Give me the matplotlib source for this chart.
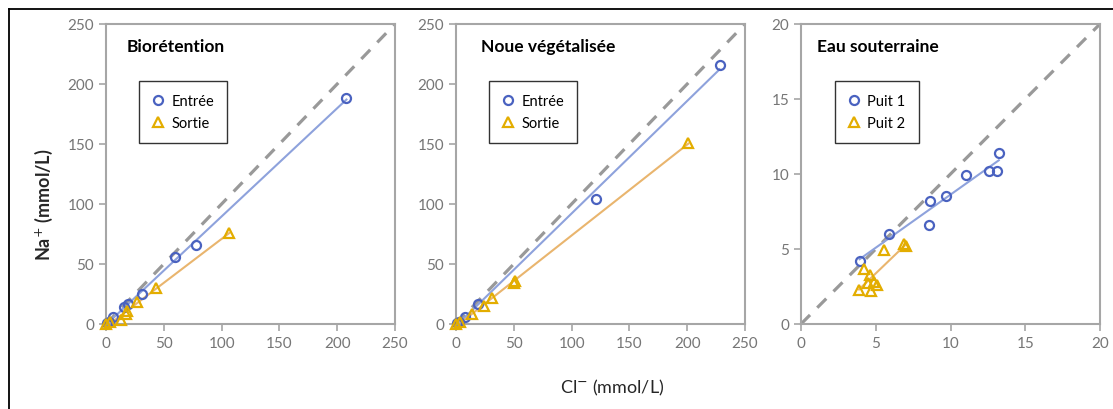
import matplotlib
matplotlib.use("Agg")
import matplotlib.pyplot as plt
import numpy as np
from matplotlib.lines import Line2D

plt.rcParams['font.family'] = ['Lato', 'DejaVu Sans']

# Biorétention
bio_in_x = [0.5, 3, 6, 16, 19, 31, 60, 78, 208]
bio_in_y = [1, 2, 5.6, 14.5, 16.7, 25, 56, 66, 188]
bio_out_x = [0, 3.5, 12.7, 17, 18, 26.5, 43, 106.7]
bio_out_y = [0, 2, 3, 8, 11, 18, 30, 76]

# Noue végétalisée
noue_in_x = [0.5, 3, 8, 19, 121, 228]
noue_in_y = [1, 2, 5.6, 16.7, 104.5, 216]
noue_out_x = [0, 3.5, 14, 24, 31, 50, 51, 201]
noue_out_y = [0, 1.5, 8, 15, 22, 34, 36, 151]

# Eau souterraine
puit1_x = [3.92, 5.86, 8.57, 8.64, 9.71, 11.02, 12.56, 13.14, 13.23]
puit1_y = [4.18, 5.97, 6.59, 8.2, 8.56, 9.94, 10.21, 10.21, 11.4]
puit2_x = [3.88, 4.19, 4.45, 4.63, 4.7, 4.86, 5.08, 5.57, 6.9, 7.04]
puit2_y = [2.28, 3.69, 2.75, 3.24, 2.17, 2.8, 2.57, 4.92, 5.36, 5.2]

panels = [
    ("Biorétention", bio_in_x, bio_in_y, bio_out_x, bio_out_y, ["Entrée", "Sortie"], 250, 50),
    ("Noue végétalisée", noue_in_x, noue_in_y, noue_out_x, noue_out_y, ["Entrée", "Sortie"], 250, 50),
    ("Eau souterraine", puit1_x, puit1_y, puit2_x, puit2_y, ["Puit 1", "Puit 2"], 20, 5),
]

blue = '#4a62c0'
blue_line = '#8ea2dc'
gold = '#e3ad00'
gold_line = '#e9b56e'
spine = '#a6a6a6'
tickc = '#767676'

W, H = 1113, 410
fig = plt.figure(figsize=(W / 100, H / 100), dpi=100)

# axes boxes in pixels: left, right, top, bottom
boxes = [(106, 395, 25, 325), (456, 745, 25, 325), (801, 1100, 25, 325)]
title_x = [0.07, 0.085, 0.055]

for (title, x1, y1, x2, y2, labels, lim, step), (l, r, t, b), tx in zip(panels, boxes, title_x):
    ax = fig.add_axes([l / W, 1 - b / H, (r - l) / W, (b - t) / H])
    ax.plot([0, lim], [0, lim], color='#999999', lw=2.3, dashes=(4, 3.2), zorder=1)

    for xs, ys, lc in ((x1, y1, blue_line), (x2, y2, gold_line)):
        xs = np.array(xs)
        ys = np.array(ys)
        k, c = np.polyfit(xs, ys, 1)
        xx = np.array([xs.min(), xs.max()])
        ax.plot(xx, k * xx + c, color=lc, lw=1.5, zorder=2)

    ax.plot(x1, y1, 'o', ms=6.5, mfc='none', mec=blue, mew=1.6, ls='none', label=labels[0],
            zorder=3, clip_on=False)
    ax.plot(x2, y2, '^', ms=6.5, mfc='none', mec=gold, mew=1.6, ls='none', label=labels[1],
            zorder=3, clip_on=False)

    ax.set_xlim(0, lim)
    ax.set_ylim(0, lim)
    ax.set_xticks(np.arange(0, lim + 1, step))
    ax.set_yticks(np.arange(0, lim + 1, step))
    for s in ax.spines.values():
        s.set_color(spine)
        s.set_linewidth(1.5)
    ax.tick_params(colors=spine, labelcolor=tickc, labelsize=11, length=5, width=1.2, direction='out')

    ax.text(tx, 0.925, title, transform=ax.transAxes, fontsize=12.5, fontweight='bold',
            va='center', ha='left', color='black')

    leg = ax.legend(loc='upper left', bbox_to_anchor=(0.115, 0.81), frameon=True, fancybox=False,
                    edgecolor='black', fontsize=10.5, handlelength=0.8, handletextpad=0.5,
                    borderpad=0.9, labelspacing=0.55, borderaxespad=0)
    leg.get_frame().set_linewidth(1.0)

fig.text(44 / W, 1 - 205 / H, 'Na$^{+}$ (mmol/L)', rotation=90, ha='center', va='center',
         fontsize=13, fontweight='bold', color='#262626')
fig.text(612 / W, 1 - 388 / H, 'Cl$^{-}$ (mmol/L)', ha='center', va='center',
         fontsize=13, color='#262626')

# outer frame (partially cropped in the reference)
fig.add_artist(Line2D([9 / W, 9 / W], [0, 1 - 10 / H], color='black', lw=1.3, transform=fig.transFigure))
fig.add_artist(Line2D([9 / W, 1], [1 - 10 / H, 1 - 10 / H], color='black', lw=1.3, transform=fig.transFigure))

fig.savefig('out.png', dpi=100)
